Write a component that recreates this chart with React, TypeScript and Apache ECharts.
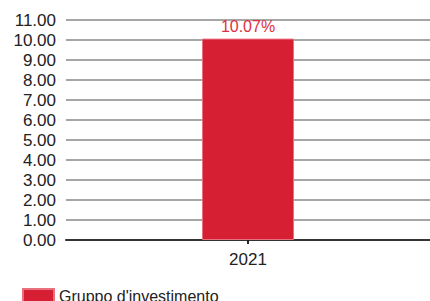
import React, { useEffect, useRef } from "react";
import * as echarts from "echarts";

const categories = ["2021"];
const seriesName = "Gruppo d'investimento";
const values = [10.07];
const yMin = 0;
const yMax = 11;
const yInterval = 1;

export default function App() {
  const ref = useRef<HTMLDivElement>(null);
  useEffect(() => {
    if (!ref.current) return;
    const chart = echarts.init(ref.current, null, { renderer: "svg" });
    chart.setOption({
      animation: false,
      textStyle: { fontFamily: "Liberation Sans, Arial, sans-serif" },
      grid: { left: 66, top: 20, width: 370, height: 220, containLabel: false },
      legend: {
        data: [seriesName],
        left: 17,
        top: 283,
        itemWidth: 31,
        itemHeight: 14,
        itemGap: 8,
        icon: "rect",
        textStyle: { fontSize: 16, color: "#222", fontFamily: "Liberation Sans, Arial, sans-serif" },
      },
      xAxis: {
        type: "category",
        data: categories,
        axisLine: { show: true, lineStyle: { color: "#333", width: 2 } },
        axisTick: { show: true, alignWithLabel: true, length: 4, lineStyle: { color: "#222", width: 2 } },
        axisLabel: { fontSize: 17, color: "#222", margin: 11 },
      },
      yAxis: {
        type: "value",
        min: yMin,
        max: yMax,
        interval: yInterval,
        axisLine: { show: false },
        axisTick: { show: false },
        axisLabel: {
          fontSize: 17,
          color: "#222",
          margin: 10,
          formatter: (v: number) => v.toFixed(2),
        },
        splitLine: { show: true, lineStyle: { color: "#a6a6a6", width: 2 } },
      },
      series: [
        {
          name: seriesName,
          type: "bar",
          data: values,
          barWidth: 92,
          itemStyle: { color: "#d71f34", borderColor: "#e9707e", borderWidth: 1 },
          label: {
            show: true,
            position: "top",
            distance: 4,
            fontSize: 16,
            color: "#e03040",
            formatter: (p: any) => p.value.toFixed(2) + "%",
          },
        },
      ],
    });
    return () => chart.dispose();
  }, []);
  return <div ref={ref} style={{ width: 430, height: 301, position: "absolute", left: 0, top: 0 }} />;
}
